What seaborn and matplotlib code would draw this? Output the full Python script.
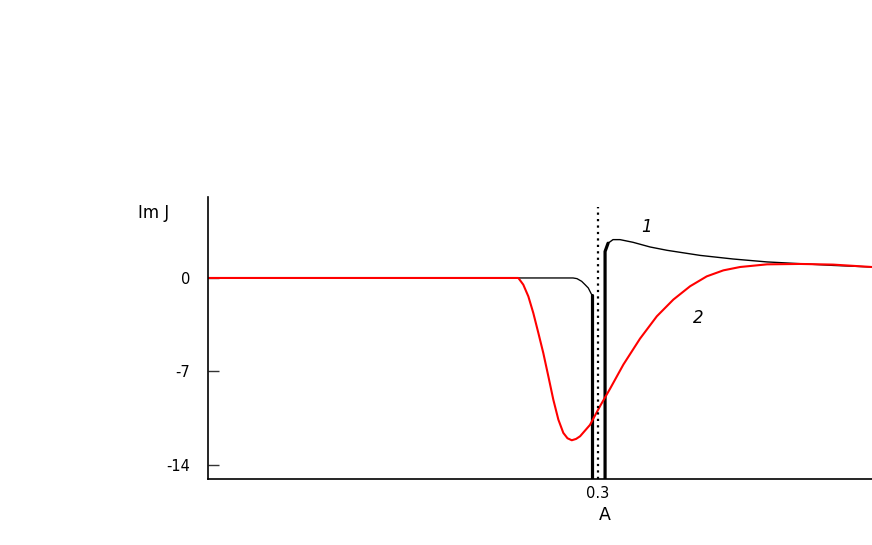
import matplotlib
matplotlib.use("Agg")
import matplotlib.pyplot as plt
import seaborn as sns
import pandas as pd
import numpy as np

sns.set_theme(style="white")
plt.rcParams['font.family'] = ['DejaVu Sans']
plt.rcParams['text.color'] = 'black'
plt.rcParams['xtick.color'] = 'black'
plt.rcParams['ytick.color'] = 'black'
plt.rcParams['axes.labelcolor'] = 'black'

# curve 1 (black), left branch falling to -inf near A = 0.3
black_left_a = [0.0, 0.2808, 0.2838, 0.2874, 0.29, 0.2925, 0.2951, 0.2951]
black_left_j = [0.0, 0.0, -0.05, -0.25, -0.5, -0.75, -1.25, -16.0]
# curve 1 (black), right branch rising from -inf
black_right_a = [0.3054, 0.3054, 0.3077, 0.3115, 0.3169, 0.3269, 0.34, 0.3531,
                 0.3785, 0.4038, 0.43, 0.4554, 0.4808, 0.5108]
black_right_j = [-16.0, 1.98, 2.6, 2.87, 2.87, 2.67, 2.32, 2.07,
                 1.69, 1.42, 1.2, 1.07, 0.94, 0.82]

# curve 2 (red)
red_a = [0.0, 0.2387, 0.2425, 0.2464, 0.2502, 0.2541, 0.2579, 0.2618, 0.2656, 0.2695,
         0.2733, 0.2765, 0.2798, 0.2831, 0.2862, 0.2938, 0.3015, 0.3092, 0.3195, 0.3323,
         0.3452, 0.3579, 0.3708, 0.3836, 0.3964, 0.4092, 0.43, 0.4554, 0.4808, 0.5108]
red_j = [0.0, 0.0, -0.5, -1.38, -2.62, -4.12, -5.62, -7.37, -9.11, -10.61,
         -11.6, -12.0, -12.15, -12.05, -11.85, -11.0, -9.6, -8.3, -6.48, -4.54,
         -2.87, -1.62, -0.62, 0.12, 0.57, 0.82, 1.02, 1.05, 1.0, 0.82]

a_crit = 0.3
y_ticks = [0, -7, -14]

fig = plt.figure(figsize=(8.72, 5.45), dpi=100)
ax = fig.add_axes([0.2385, 0.1211, 0.7615, 0.5174])

sns.lineplot(x=black_left_a, y=black_left_j, ax=ax, color='black', lw=0.95, sort=False, estimator=None)
sns.lineplot(x=black_left_a[-2:], y=black_left_j[-2:], ax=ax, color='black', lw=2.3, sort=False, estimator=None)
sns.lineplot(x=black_right_a, y=black_right_j, ax=ax, color='black', lw=1.0, sort=False, estimator=None)
sns.lineplot(x=black_right_a[:3], y=black_right_j[:3], ax=ax, color='black', lw=2.3, sort=False, estimator=None)
sns.lineplot(x=red_a, y=red_j, ax=ax, color='red', lw=1.5, sort=False, estimator=None)

ax.vlines(a_crit, -15.05, 5.3, color='black', lw=1.6, linestyles=(0, (1, 1.9)))

ax.set_xlim(0.0, 0.5107)
ax.set_ylim(-15.05, 6.06)
ax.set_xticks([a_crit])
ax.set_xticklabels(['0.3'], fontsize=10.5)
ax.set_yticks(y_ticks)
ax.set_yticklabels([str(v) for v in y_ticks], fontsize=10.5)
ax.tick_params(axis='y', direction='in', length=8, width=1, color='#333333', pad=13, left=True)
ax.tick_params(axis='x', length=0, pad=5)

for s in ['top', 'right']:
    ax.spines[s].set_visible(False)
for s in ['left', 'bottom']:
    ax.spines[s].set_color('black')
    ax.spines[s].set_linewidth(1.2)

ax.set_xlabel('A', fontsize=12.5)
ax.xaxis.set_label_coords(0.598, -0.095)
ax.set_ylabel('')
fig.text(0.158, 0.61, 'Im J', fontsize=12, ha='left', va='center')

ax.text(0.3369, 3.84, '1', fontsize=12, style='italic', ha='center', va='center')
ax.text(0.3769, -2.97, '2', fontsize=12, style='italic', ha='center', va='center')

fig.savefig('out.png', dpi=100)
